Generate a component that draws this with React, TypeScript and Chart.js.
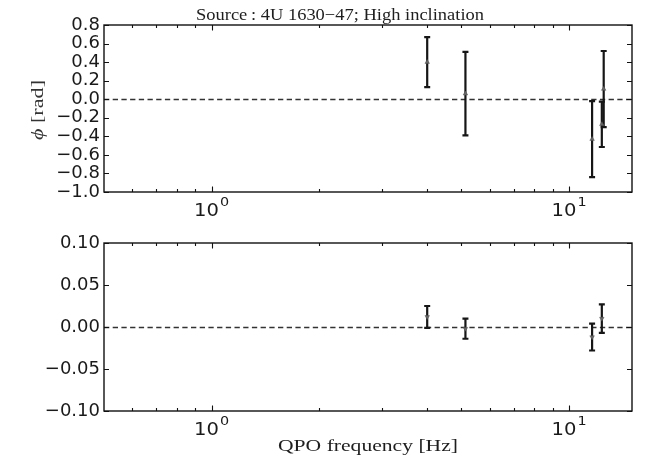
import React, { useEffect, useRef } from 'react';
import { Chart, registerables } from 'chart.js';

Chart.register(...registerables);

// ---- data ----
const phiFreq = [4.01, 5.13, 11.6, 12.35, 12.5];
const phiValues = [0.4, 0.06, -0.43, -0.27, 0.11];
const phiErrors = [0.27, 0.45, 0.41, 0.245, 0.41];

const dnuFreq = [4.01, 5.13, 11.6, 12.35];
const dnuValues = [0.012, -0.002, -0.012, 0.01];
const dnuErrors = [0.013, 0.012, 0.016, 0.017];

const xMajorTicks = [1, 10];
const xMinorTicks = [0.6, 0.7, 0.8, 0.9, 2, 3, 4, 5, 6, 7, 8, 9];

const titleText = 'Source\u2009: 4U 1630\u221247; High inclination';
const xTitleText = 'QPO frequency [Hz]';

type Seg = { t: string; font: string; dy?: number };

type PanelCfg = {
  freq: number[];
  values: number[];
  errors: number[];
  yMin: number;
  yMax: number;
  yStep: number;
  decimals: number;
  rotation: number;
  top: number;
  height: number;
  padTop: number;
  xAxisHeight: number;
  title?: { text: string; cx: number; baseline: number; width: number };
  xTitle?: { text: string; baseline: number; width: number };
  yLabel: { segs: Seg[]; cx: number; cy: number; length: number };
};

const SERIF = '"Liberation Serif", "DejaVu Serif", serif';
const SANS = '"DejaVu Sans", sans-serif';

function fmt(v: number, d: number) {
  const r = Math.abs(v) < 1e-9 ? 0 : v;
  const s = r.toFixed(d);
  return s.startsWith('-') ? '\u2212' + s.slice(1) : s;
}

function drawSegs(ctx: CanvasRenderingContext2D, segs: Seg[], cx: number, baseline: number, target: number) {
  let total = 0;
  const widths = segs.map((s) => {
    ctx.font = s.font;
    const w = ctx.measureText(s.t).width;
    total += w;
    return w;
  });
  const sx = target > 0 ? target / total : 1;
  ctx.save();
  ctx.translate(cx - (total * sx) / 2, baseline);
  ctx.scale(sx, 1);
  let x = 0;
  segs.forEach((s, i) => {
    ctx.font = s.font;
    ctx.fillText(s.t, x, s.dy || 0);
    x += widths[i];
  });
  ctx.restore();
}

function makeDecor(cfg: PanelCfg) {
  return {
    id: 'panelDecor',
    beforeDatasetsDraw(chart: any) {
      const { ctx, chartArea: ca, scales } = chart;
      const x = scales.x;
      const y = scales.y;
      ctx.save();
      ctx.strokeStyle = '#333';
      ctx.lineWidth = 1.3;
      ctx.setLineDash([5.3, 3.4]);
      const y0 = Math.round(y.getPixelForValue(0)) + 0.5;
      ctx.beginPath();
      ctx.moveTo(ca.left, y0);
      ctx.lineTo(ca.right, y0);
      ctx.stroke();
      ctx.restore();

      ctx.save();
      ctx.strokeStyle = '#161616';
      ctx.lineWidth = 2.2;
      cfg.freq.forEach((f, i) => {
        const px = x.getPixelForValue(f);
        const yt = y.getPixelForValue(cfg.values[i] + cfg.errors[i]);
        const yb = y.getPixelForValue(cfg.values[i] - cfg.errors[i]);
        ctx.beginPath();
        ctx.moveTo(px, yt);
        ctx.lineTo(px, yb);
        ctx.moveTo(px - 3, yt);
        ctx.lineTo(px + 3, yt);
        ctx.moveTo(px - 3, yb);
        ctx.lineTo(px + 3, yb);
        ctx.stroke();
      });
      ctx.restore();
    },
    afterDraw(chart: any) {
      const { ctx, chartArea: ca, scales } = chart;
      const x = scales.x;
      const y = scales.y;
      ctx.save();
      ctx.strokeStyle = '#111';
      ctx.lineWidth = 1.1;
      ctx.beginPath();
      for (const t of y.ticks) {
        const py = Math.round(y.getPixelForValue(t.value)) + 0.5;
        ctx.moveTo(ca.left, py);
        ctx.lineTo(ca.left + 5, py);
        ctx.moveTo(ca.right, py);
        ctx.lineTo(ca.right - 5, py);
      }
      const xt = (vals: number[], len: number) => {
        for (const v of vals) {
          const px = Math.round(x.getPixelForValue(v)) + 0.5;
          ctx.moveTo(px, ca.bottom);
          ctx.lineTo(px, ca.bottom - len);
          ctx.moveTo(px, ca.top);
          ctx.lineTo(px, ca.top + len);
        }
      };
      xt(xMajorTicks, 5.5);
      xt(xMinorTicks, 3);
      ctx.stroke();
      ctx.lineWidth = 1.4;
      ctx.strokeRect(ca.left, ca.top, ca.right - ca.left, ca.bottom - ca.top);
      ctx.restore();

      // x tick labels (10^n)
      ctx.save();
      ctx.fillStyle = '#1a1a1a';
      ctx.textBaseline = 'alphabetic';
      const sx = 1.15;
      for (const v of xMajorTicks) {
        const px = x.getPixelForValue(v);
        const base = '10';
        const exp = String(Math.round(Math.log10(v)));
        ctx.font = '17px ' + SANS;
        const w1 = ctx.measureText(base).width;
        ctx.font = '12.5px ' + SANS;
        const w2 = ctx.measureText(exp).width;
        const total = (w1 + w2 + 1) * sx;
        const bl = ca.bottom + 23.5;
        ctx.save();
        ctx.translate(px - total / 2, bl);
        ctx.scale(sx, 1);
        ctx.font = '17px ' + SANS;
        ctx.fillText(base, 0, 0);
        ctx.font = '12.5px ' + SANS;
        ctx.fillText(exp, w1 + 1, -9.5);
        ctx.restore();
      }
      ctx.restore();

      // serif texts
      ctx.save();
      ctx.fillStyle = '#1e1e1e';
      ctx.textBaseline = 'alphabetic';
      if (cfg.title) {
        drawSegs(ctx, [{ t: cfg.title.text, font: '17.5px ' + SERIF }], cfg.title.cx, cfg.title.baseline, cfg.title.width);
      }
      if (cfg.xTitle) {
        drawSegs(ctx, [{ t: cfg.xTitle.text, font: '17.5px ' + SERIF }], (ca.left + ca.right) / 2, cfg.xTitle.baseline, cfg.xTitle.width);
      }
      const yl = cfg.yLabel;
      ctx.save();
      ctx.fillStyle = '#333';
      ctx.translate(yl.cx + 5.5, yl.cy);
      ctx.rotate(-Math.PI / 2);
      drawSegs(ctx, yl.segs, 0, 0, yl.length);
      ctx.restore();
      ctx.restore();
    },
  };
}

const topCfg: PanelCfg = {
  freq: phiFreq,
  values: phiValues,
  errors: phiErrors,
  yMin: -1.0,
  yMax: 0.8,
  yStep: 0.2,
  decimals: 1,
  rotation: 0,
  top: 0,
  height: 222,
  padTop: 25,
  xAxisHeight: 30,
  title: { text: titleText, cx: 340, baseline: 20, width: 288 },
  yLabel: {
    segs: [
      { t: '\u03d5', font: 'italic 17px ' + SERIF },
      { t: ' [rad]', font: '17px ' + SERIF },
    ],
    cx: 37,
    cy: 110,
    length: 60,
  },
};

const bottomCfg: PanelCfg = {
  freq: dnuFreq,
  values: dnuValues,
  errors: dnuErrors,
  yMin: -0.1,
  yMax: 0.1,
  yStep: 0.05,
  decimals: 2,
  rotation: 180,
  top: 222,
  height: 249,
  padTop: 21,
  xAxisHeight: 60,
  xTitle: { text: xTitleText, baseline: 229, width: 180 },
  yLabel: {
    segs: [
      { t: '\u0394', font: '17px ' + SERIF },
      { t: '\u03bd', font: 'italic 17px ' + SERIF },
      { t: '0', font: '12px ' + SERIF, dy: 3.5 },
      { t: '/', font: '17px ' + SERIF },
      { t: '\u03bd', font: 'italic 17px ' + SERIF },
      { t: '0', font: '12px ' + SERIF, dy: 3.5 },
    ],
    cx: 25,
    cy: 331,
    length: 63,
  },
};

function Panel({ cfg }: { cfg: PanelCfg }) {
  const ref = useRef<HTMLCanvasElement>(null);
  useEffect(() => {
    const canvas = ref.current;
    if (!canvas) return;
    const chart = new Chart(canvas, {
      type: 'scatter',
      data: {
        datasets: [
          {
            data: cfg.freq.map((f, i) => ({ x: f, y: cfg.values[i] })),
            pointStyle: 'triangle',
            rotation: cfg.rotation,
            radius: 2.6,
            backgroundColor: '#666',
            borderColor: '#555',
            borderWidth: 0.5,
          } as any,
        ],
      },
      options: {
        responsive: false,
        animation: false,
        devicePixelRatio: 1,
        events: [],
        layout: { padding: { top: cfg.padTop, right: 17, left: 0, bottom: 0 } },
        plugins: {
          legend: { display: false },
          tooltip: { enabled: false },
          title: { display: false },
        },
        scales: {
          x: {
            type: 'logarithmic',
            min: 0.5,
            max: 15,
            grid: { display: false, drawTicks: false },
            border: { display: false },
            ticks: { display: false },
            afterFit: (s: any) => {
              s.height = cfg.xAxisHeight;
            },
          },
          y: {
            type: 'linear',
            min: cfg.yMin,
            max: cfg.yMax,
            grid: { display: false, drawTicks: false },
            border: { display: false },
            ticks: {
              stepSize: cfg.yStep,
              autoSkip: false,
              padding: 4,
              color: '#1a1a1a',
              font: { family: 'DejaVu Sans', size: 18 },
              callback: (v: any) => fmt(Number(v), cfg.decimals),
            },
            afterFit: (s: any) => {
              s.width = 104;
            },
          },
        },
      } as any,
      plugins: [makeDecor(cfg)],
    });
    return () => chart.destroy();
  }, [cfg]);
  return (
    <canvas
      ref={ref}
      width={649}
      height={cfg.height}
      style={{ position: 'absolute', left: 0, top: cfg.top, display: 'block' }}
    />
  );
}

export default function App() {
  return (
    <div
      style={{
        position: 'fixed',
        left: 0,
        top: 0,
        width: 649,
        height: 471,
        background: '#fff',
        overflow: 'hidden',
      }}
    >
      <Panel cfg={topCfg} />
      <Panel cfg={bottomCfg} />
    </div>
  );
}
